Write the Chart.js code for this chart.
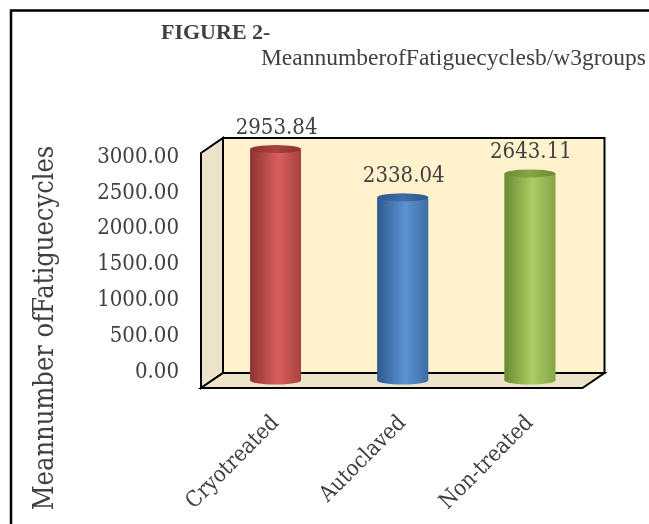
<!DOCTYPE html>
<html>
<head>
<meta charset="utf-8">
<script src="https://cdn.jsdelivr.net/npm/chart.js@4.4.0/dist/chart.umd.min.js"></script>
<style>
html,body{margin:0;padding:0;background:#fff;}
#wrap{position:relative;width:649px;height:524px;}
</style>
</head>
<body>
<div id="wrap"><canvas id="c" width="649" height="524"></canvas></div>
<script>
// ---- data ----
const categories = ['Cryotreated', 'Autoclaved', 'Non-treated'];
const meanCycles = [2953.84, 2338.04, 2643.11];
const yTickValues = [0, 500, 1000, 1500, 2000, 2500, 3000];
const titleLine1 = 'FIGURE 2-';
const titleLine2 = 'MeannumberofFatiguecyclesb/w3groups';
const yAxisTitle = 'Meannumber ofFatiguecycles';
const barBase = ['#c0504d', '#4f81bd', '#9bbb59'];
const barShades = [
  ['#8c3330', '#d9605c', '#a8423f'],
  ['#2e5a8e', '#5d93d4', '#3d6ca6'],
  ['#6c8a32', '#aacd63', '#86a548']
];

const SERIF = '"DejaVu Serif Condensed", "DejaVu Serif", serif';
const TXT = '#404040';
const DX = 11, DY = 7.5; // half depth of the 3D box

const boxPlugin = {
  id: 'box3d',
  beforeDraw(chart) {
    const ctx = chart.ctx;
    ctx.save();
    ctx.fillStyle = '#fff';
    ctx.fillRect(0, 0, chart.width, chart.height);
    // frame lines
    ctx.strokeStyle = '#000';
    ctx.lineWidth = 2.5;
    ctx.beginPath();
    ctx.moveTo(11, chart.height);
    ctx.lineTo(11, 10.5);
    ctx.lineTo(chart.width, 10.5);
    ctx.stroke();
    // titles
    ctx.fillStyle = TXT;
    ctx.textBaseline = 'alphabetic';
    ctx.textAlign = 'left';
    ctx.font = 'bold 22px "Liberation Serif", serif';
    ctx.fillText(titleLine1, 161, 38.5);
    ctx.font = '23.5px "Liberation Serif", serif';
    ctx.textAlign = 'right';
    ctx.fillText(titleLine2, 646, 65);
    // y axis title
    ctx.save();
    ctx.translate(46, 328);
    ctx.rotate(-Math.PI / 2);
    ctx.textAlign = 'center';
    ctx.textBaseline = 'middle';
    ctx.font = '27px ' + SERIF;
    ctx.fillText(yAxisTitle, 0, 0);
    ctx.restore();
    ctx.restore();
  },
  beforeDatasetsDraw(chart) {
    const {ctx, chartArea: a} = chart;
    const L = a.left, R = a.right, T = a.top, B = a.bottom;
    ctx.save();
    ctx.lineWidth = 2;
    ctx.strokeStyle = '#000';
    ctx.lineJoin = 'miter';
    // back wall
    ctx.fillStyle = '#fff2cc';
    ctx.beginPath();
    ctx.rect(L + DX, T - DY, R - L, B - T);
    ctx.fill(); ctx.stroke();
    // left side wall
    ctx.fillStyle = '#ede3c8';
    ctx.beginPath();
    ctx.moveTo(L - DX, T + DY);
    ctx.lineTo(L + DX, T - DY);
    ctx.lineTo(L + DX, B - DY);
    ctx.lineTo(L - DX, B + DY);
    ctx.closePath();
    ctx.fill(); ctx.stroke();
    // floor
    ctx.beginPath();
    ctx.moveTo(L - DX, B + DY);
    ctx.lineTo(L + DX, B - DY);
    ctx.lineTo(R + DX, B - DY);
    ctx.lineTo(R - DX, B + DY);
    ctx.closePath();
    ctx.fill(); ctx.stroke();
    ctx.restore();
  },
  afterDatasetsDraw(chart) {
    const ctx = chart.ctx;
    const meta = chart.getDatasetMeta(0);
    ctx.save();
    meta.data.forEach((el, i) => {
      const {x, y, base, width} = el.getProps(['x', 'y', 'base', 'width'], true);
      const l = x - width / 2, r = x + width / 2;
      const ry = 4;
      const sh = barShades[i];
      const g = ctx.createLinearGradient(l, 0, r, 0);
      g.addColorStop(0, sh[0]);
      g.addColorStop(0.55, sh[1]);
      g.addColorStop(1, sh[2]);
      // body
      ctx.fillStyle = g;
      ctx.beginPath();
      ctx.moveTo(l, y);
      ctx.lineTo(l, base);
      ctx.ellipse(x, base, width / 2, ry, 0, Math.PI, 0, true);
      ctx.lineTo(r, y);
      ctx.closePath();
      ctx.fill();
      // top
      const gt = ctx.createLinearGradient(l, 0, r, 0);
      gt.addColorStop(0, sh[0]);
      gt.addColorStop(0.5, sh[2]);
      gt.addColorStop(1, sh[0]);
      ctx.fillStyle = gt;
      ctx.beginPath();
      ctx.ellipse(x, y, width / 2, ry, 0, 0, Math.PI * 2);
      ctx.fill();
      // value label
      ctx.fillStyle = TXT;
      ctx.font = '22px ' + SERIF;
      ctx.textAlign = 'center';
      ctx.textBaseline = 'bottom';
      ctx.fillText(meanCycles[i].toFixed(2), x + 1, y - 10);
    });
    ctx.restore();
  }
};

new Chart(document.getElementById('c'), {
  type: 'bar',
  data: {
    labels: categories,
    datasets: [{
      data: meanCycles,
      backgroundColor: barBase,
      borderWidth: 0,
      barPercentage: 0.4,
      categoryPercentage: 1.0,
      yAxisID: 'y'
    }]
  },
  options: {
    responsive: false,
    animation: false,
    devicePixelRatio: 1,
    layout: { padding: { left: 0, right: 55.5, top: 145.5, bottom: 0 } },
    plugins: { legend: { display: false }, tooltip: { enabled: false }, title: { display: false } },
    scales: {
      x: {
        grid: { display: false },
        border: { display: false },
        ticks: {
          color: TXT,
          font: { family: SERIF, size: 22 },
          maxRotation: 45, minRotation: 45,
          padding: 22
        },
        afterFit(s) { s.height = 143.5; }
      },
      y: {
        display: false,
        min: 0, max: 3000
      },
      yl: {
        position: 'left',
        min: -119, max: 3161,
        grid: { display: false },
        border: { display: false },
        afterBuildTicks(s) { s.ticks = yTickValues.map(v => ({ value: v })); },
        ticks: {
          color: TXT,
          font: { family: SERIF, size: 22 },
          padding: 25,
          callback: v => Number(v).toFixed(2)
        },
        afterFit(s) { s.width = 212; }
      }
    }
  },
  plugins: [boxPlugin]
});
</script>
</body>
</html>
